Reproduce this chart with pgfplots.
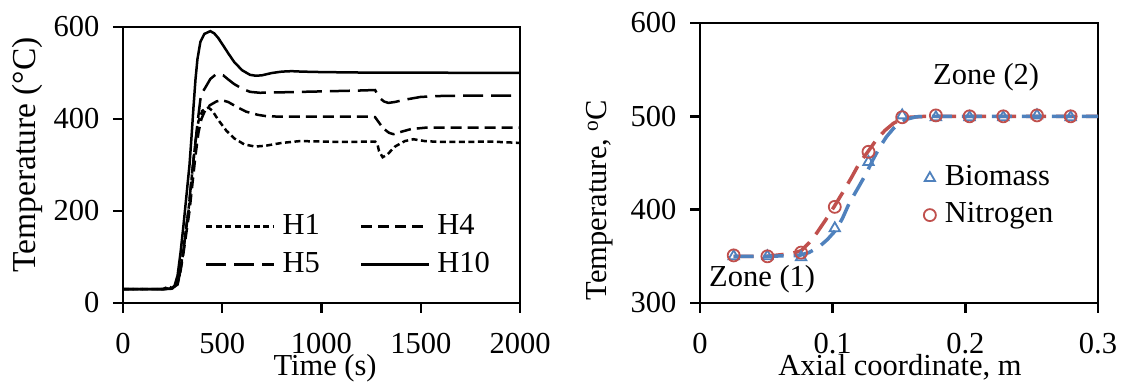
\documentclass[border=0pt]{standalone}
\usepackage{fontspec}
\setmainfont{Liberation Serif}
\usepackage{pgfplots}
\pgfplotsset{compat=1.18}
\definecolor{myblue}{RGB}{79,129,189}
\definecolor{myred}{RGB}{192,80,77}
\newcommand\fs{\fontsize{30.5}{36}\selectfont}
\pgfplotsset{
  myaxis/.style={
    scale only axis,
    anchor=south west,
    axis line style={line width=2.5pt},
    every tick/.style={line width=2.5pt, black},
    major tick length=10pt,
    tick align=outside,
    xtick pos=bottom, ytick pos=left,
    tick label style={font=\fs},
    label style={font=\fs},
    /pgf/number format/assume math mode=true,
    /pgf/number format/1000 sep={},
    scaled ticks=false,
    xticklabel style={anchor=base, yshift=-41pt},
    yticklabel style={anchor=east, xshift=-10pt},
  }
}
\begin{document}
\begin{tikzpicture}
\useasboundingbox (0pt,0pt) rectangle (1122pt,382pt);
% ---------------- left panel
\begin{axis}[myaxis, at={(123pt,79pt)}, width=397pt, height=276pt,
  xmin=0, xmax=2000, ymin=0, ymax=600,
  xtick={0,500,1000,1500,2000}, ytick={0,200,400,600},
  xlabel={Time (s)}, ylabel={Temperature (°C)},
  xlabel style={at={(rel axis cs:0.509,-0.2627)}, anchor=base},
  ylabel style={at={(rel axis cs:-0.2418,0.536)}, anchor=center, font=\fontsize{33.5}{40}\selectfont},
  legend columns=2,
  legend image code/.code={\draw[#1] (0pt,0pt) -- (68pt,0pt);},
  legend style={at={(rel axis cs:0.2065,0.326)}, anchor=north west,
    draw=none, fill=none, inner sep=0pt, row sep=11pt,
    nodes={inner sep=0pt, text height=21pt, text depth=6pt, font=\fs},
    /tikz/every odd column/.append style={column sep=7pt},
    /tikz/every even column/.append style={column sep=40pt}},
  legend cell align=left,
]
\addplot[black, line width=2.5pt, dash pattern=on 6pt off 3.5pt] coordinates {
(0,30) (200,30) (215,33) (230,36) (250,32) (270,40) (290,75) (305,120) (320,170) (335,220) (350,290) (365,350) (380,395) (400,418) (430,425) (450,418) (480,398) (520,375) (560,358) (610,345) (665,340) (720,342) (800,348) (892,352) (1000,351) (1100,350) (1270,351) (1282,345) (1290,330) (1308,317) (1330,322) (1370,340) (1420,352) (1463,356) (1520,352) (1600,350) (1700,350) (1850,351) (2000,348)};
\addlegendentry{H1}
\addplot[black, line width=2.5pt, dash pattern=on 11pt off 6pt] coordinates {
(0,30) (200,30) (250,33) (275,40) (290,70) (305,110) (320,155) (335,200) (350,260) (365,320) (380,370) (395,400) (415,420) (438,430) (470,438) (497,441) (530,437) (570,427) (620,416) (680,409) (724,406) (800,405) (1000,405) (1235,405) (1270,404) (1285,395) (1310,380) (1340,370) (1362,367) (1400,372) (1450,378) (1521,381) (1700,381) (2000,381)};
\addlegendentry{H4}
\addplot[black, line width=2.5pt, dash pattern=on 20pt off 8pt] coordinates {
(0,30) (200,30) (250,32) (270,36) (285,60) (300,100) (315,150) (330,200) (345,270) (360,330) (375,390) (390,443) (400,458) (413,467) (440,487) (465,496) (485,498) (505,495) (530,486) (560,476) (600,466) (640,459) (690,457) (800,458) (1000,460) (1200,462) (1270,463) (1280,455) (1295,445) (1315,438) (1337,435) (1370,437) (1420,442) (1500,448) (1600,450) (1800,451) (2000,451)};
\addlegendentry{H5}
\addplot[black, line width=2.5pt] coordinates {
(0,30) (200,30) (245,31) (260,38) (275,60) (290,110) (305,170) (320,235) (335,300) (345,360) (355,425) (365,485) (375,530) (390,568) (410,585) (440,591) (460,586) (480,576) (500,563) (530,543) (560,524) (600,506) (640,496) (670,494) (700,495) (750,500) (800,503) (850,504) (900,503) (1000,502) (1200,501) (1300,501) (1500,501) (1800,500) (2000,500)};
\addlegendentry{H10}
\end{axis}
% ---------------- right panel
\begin{axis}[myaxis, at={(700pt,79pt)}, width=398pt, height=280pt,
  xmin=0, xmax=0.3, ymin=300, ymax=600,
  xtick={0,0.1,0.2,0.3}, ytick={300,400,500,600},
  xticklabels={0,0.1,0.2,0.3},
  xlabel={Axial coordinate, m}, ylabel={Temperature, \textsuperscript{o}C},
  xlabel style={at={(rel axis cs:0.5025,-0.259)}, anchor=base},
  ylabel style={at={(rel axis cs:-0.2513,0.368)}, anchor=center},
  legend image code/.code={\path[draw=none,fill=none] (0pt,-6pt) rectangle (12pt,6pt); \draw[#1] plot coordinates {(6pt,0pt)};},
  legend style={at={(rel axis cs:0.562,0.495)}, anchor=north west,
    draw=none, fill=none, inner sep=0pt, row sep=10pt,
    nodes={inner sep=0pt, text height=21pt, text depth=6pt, font=\fs},
    /tikz/every odd column/.append style={column sep=9pt}},
  legend cell align=left,
]
\addplot[myred, line width=3.5pt, dash pattern=on 20pt off 10pt, forget plot] coordinates {
(0.0254,350) (0.05,350) (0.0691,353) (0.0762,356) (0.0819,364) (0.088,375) (0.0947,389) (0.101,403) (0.1074,418) (0.114,434) (0.1202,450) (0.1265,462) (0.133,475) (0.1395,485) (0.1458,492.5) (0.152,497) (0.158,499) (0.17,500) (0.3,500)};
\addplot[myblue, line width=3.5pt, dash pattern=on 20pt off 10pt, forget plot] coordinates {
(0.0254,350) (0.05,350) (0.075,351) (0.082,354) (0.0896,360) (0.096,368) (0.1024,378) (0.1075,391) (0.1125,407) (0.119,423) (0.1254,439) (0.1305,454) (0.1355,467) (0.1405,478) (0.1458,487) (0.151,493) (0.156,497) (0.163,499.5) (0.171,500) (0.2,500) (0.25,500) (0.3,500)};
\addplot[only marks, mark=triangle, mark size=6pt, mark options={myblue, line width=1.8pt}] coordinates {
(0.0254,350) (0.0508,350) (0.0762,349) (0.1016,380) (0.127,451) (0.1524,501) (0.1778,499) (0.2032,499) (0.2286,499) (0.254,501) (0.2794,499)};
\addlegendentry{Biomass}
\addplot[only marks, mark=o, mark size=6pt, mark options={myred, line width=1.8pt}] coordinates {
(0.0254,351) (0.0508,350) (0.0762,354) (0.1016,403) (0.127,462) (0.1524,499) (0.1778,501) (0.2032,500) (0.2286,500) (0.254,501) (0.2794,500)};
\addlegendentry{Nitrogen}
\end{axis}
\node[font=\fs, anchor=base west, inner sep=0pt] at (933pt,297pt) {Zone (2)};
\node[font=\fs, anchor=base west, inner sep=0pt] at (709pt,95pt) {Zone (1)};
\end{tikzpicture}
\end{document}
